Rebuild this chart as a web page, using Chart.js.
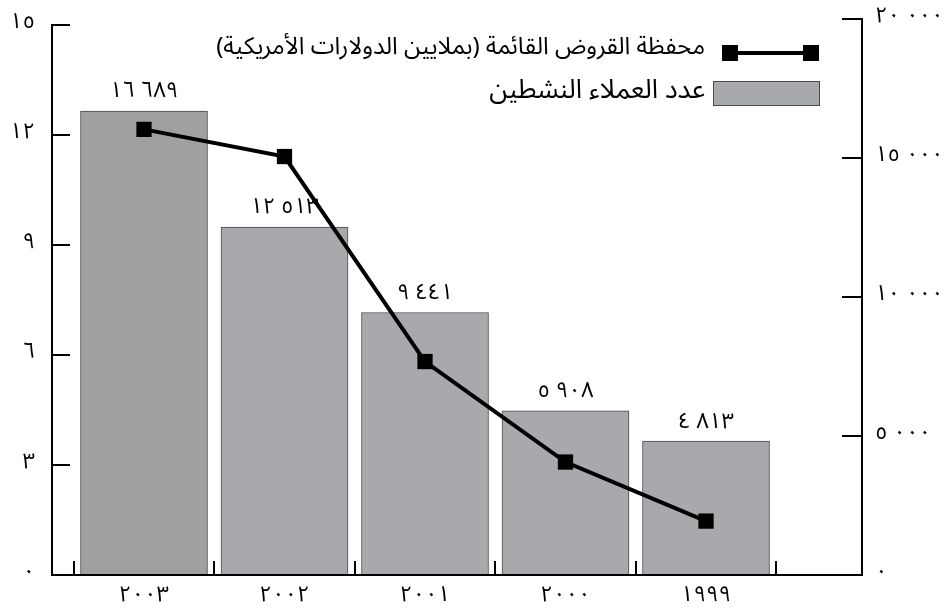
<!DOCTYPE html>
<html><head><meta charset="utf-8">
<script src="https://cdn.jsdelivr.net/npm/chart.js@4"></script>
<style>html,body{margin:0;padding:0;background:#fff}canvas{display:block}</style>
</head><body>
<canvas id="c" width="946" height="609"></canvas>
<script>
const years = [2003, 2002, 2001, 2000, 1999];
const activeClients = [16689, 12513, 9441, 5908, 4813];
const loanPortfolio = [12.15, 11.41, 5.82, 3.08, 1.47];
const leftTicks = [0, 3, 6, 9, 12, 15];
const rightTicks = [0, 5000, 10000, 15000, 20000];
const lineLabel = 'محفظة القروض القائمة (بملايين الدولارات الأمريكية)';
const barLabel = 'عدد العملاء النشطين';

const FONT = "'Noto Sans Arabic','DejaVu Sans',sans-serif";
const AR = '٠١٢٣٤٥٦٧٨٩';
const LRM = '\u200E';
function ar(n, group) {
  let s = String(n);
  if (group) s = s.replace(/\B(?=(\d{3})+(?!\d))/g, ' ');
  s = s.replace(/\d/g, d => AR[+d]);
  return s.replace(/ /g, LRM + ' ' + LRM);
}

const barColors = activeClients.map((v, i) => i === 0 ? '#a0a0a0' : '#a8a9ad');

function zeroPad(s) { s.paddingTop = 0; s.paddingBottom = 0; s.paddingLeft = 0; s.paddingRight = 0; }

const overlay = {
  id: 'overlay',
  afterDraw(chart) {
    const ctx = chart.ctx;
    const xs = chart.scales.x, yl = chart.scales.y, yr = chart.scales.y1;
    const a = chart.chartArea;
    ctx.save();
    ctx.strokeStyle = '#000';
    ctx.lineWidth = 2;
    ctx.lineCap = 'square';
    ctx.beginPath();
    ctx.moveTo(a.left, Math.round(yl.getPixelForValue(leftTicks[leftTicks.length - 1])));
    ctx.lineTo(a.left, a.bottom);
    ctx.lineTo(a.right, a.bottom);
    ctx.lineTo(a.right, Math.round(yr.getPixelForValue(rightTicks[rightTicks.length - 1])));
    ctx.stroke();
    ctx.lineCap = 'butt';
    leftTicks.forEach(v => {
      if (v === 0) return;
      const y = Math.round(yl.getPixelForValue(v));
      ctx.beginPath(); ctx.moveTo(a.left, y); ctx.lineTo(a.left + 18, y); ctx.stroke();
    });
    rightTicks.forEach(v => {
      if (v === 0) return;
      const y = Math.round(yr.getPixelForValue(v));
      ctx.beginPath(); ctx.moveTo(a.right, y); ctx.lineTo(a.right - 20, y); ctx.stroke();
    });
    for (let i = 0; i <= years.length; i++) {
      const x = Math.round(xs.getPixelForValue(i - 0.5));
      ctx.beginPath(); ctx.moveTo(x, a.bottom); ctx.lineTo(x, a.bottom - 14); ctx.stroke();
    }
    const meta = chart.getDatasetMeta(1);
    ctx.fillStyle = '#000';
    ctx.direction = 'ltr';
    ctx.font = '22px ' + FONT;
    ctx.textAlign = 'center';
    ctx.textBaseline = 'middle';
    meta.data.forEach((el, i) => {
      ctx.fillText(ar(activeClients[i], true), el.x, el.y - 17);
    });
    ctx.lineWidth = 4;
    ctx.beginPath(); ctx.moveTo(722, 53); ctx.lineTo(819, 53); ctx.stroke();
    ctx.fillRect(722, 45, 16, 16);
    ctx.fillRect(803, 45, 16, 16);
    ctx.fillStyle = '#a8a9ad';
    ctx.fillRect(713, 81, 107, 25);
    ctx.lineWidth = 1;
    ctx.strokeStyle = '#4a4a4a';
    ctx.strokeRect(713.5, 81.5, 106, 24);
    ctx.fillStyle = '#000';
    ctx.direction = 'rtl';
    ctx.textAlign = 'right';
    ctx.font = '24px ' + FONT;
    ctx.fillText(lineLabel, 705, 50);
    ctx.font = '26.5px ' + FONT;
    ctx.fillText(barLabel, 705, 94);
    ctx.restore();
  }
};

const UNIT = 140.5, C0 = 144;
const xMin = -(C0 - 52) / UNIT;
const xMax = xMin + 810 / UNIT;

new Chart(document.getElementById('c'), {
  type: 'bar',
  data: {
    datasets: [
      {
        type: 'line',
        label: lineLabel,
        data: loanPortfolio.map((v, i) => ({ x: i, y: v })),
        yAxisID: 'y', xAxisID: 'x',
        borderColor: '#000', borderWidth: 4,
        pointStyle: 'rect', pointRadius: 10.8, pointHoverRadius: 10.8,
        pointBackgroundColor: '#000', pointBorderWidth: 0,
        tension: 0, order: 0
      },
      {
        type: 'bar',
        label: barLabel,
        data: activeClients.map((v, i) => ({ x: i, y: v })),
        yAxisID: 'y1', xAxisID: 'x',
        backgroundColor: barColors,
        borderColor: '#4a4a4a', borderWidth: 1,
        barThickness: 127,
        order: 1
      }
    ]
  },
  options: {
    responsive: false, animation: false, devicePixelRatio: 1,
    layout: { padding: { top: 19, left: 0, right: 0, bottom: 0 } },
    plugins: { legend: { display: false }, tooltip: { enabled: false } },
    scales: {
      x: {
        type: 'linear', min: xMin, max: xMax, offset: false,
        grid: { display: false, drawTicks: false }, border: { display: false },
        afterBuildTicks: s => { s.ticks = years.map((y, i) => ({ value: i })); },
        afterFit: s => { s.height = 34; zeroPad(s); },
        ticks: {
          callback: v => ar(years[Math.round(v)], false),
          color: '#000', font: { family: FONT, size: 22 }, padding: 9,
          maxRotation: 0, autoSkip: false
        }
      },
      y: {
        position: 'left', min: 0, max: 15.16,
        grid: { display: false, drawTicks: false }, border: { display: false },
        afterBuildTicks: s => { s.ticks = leftTicks.map(v => ({ value: v })); },
        afterFit: s => { s.width = 52; zeroPad(s); },
        ticks: { callback: v => ar(v, false), color: '#000', font: { family: FONT, size: 22 }, padding: 17 }
      },
      y1: {
        position: 'right', min: 0, max: 20000,
        grid: { display: false, drawTicks: false }, border: { display: false },
        afterBuildTicks: s => { s.ticks = rightTicks.map(v => ({ value: v })); },
        afterFit: s => { s.width = 84; zeroPad(s); },
        ticks: { callback: v => ar(v, true), color: '#000', font: { family: FONT, size: 22 }, padding: 13 }
      }
    }
  },
  plugins: [overlay]
});
</script>
</body></html>
